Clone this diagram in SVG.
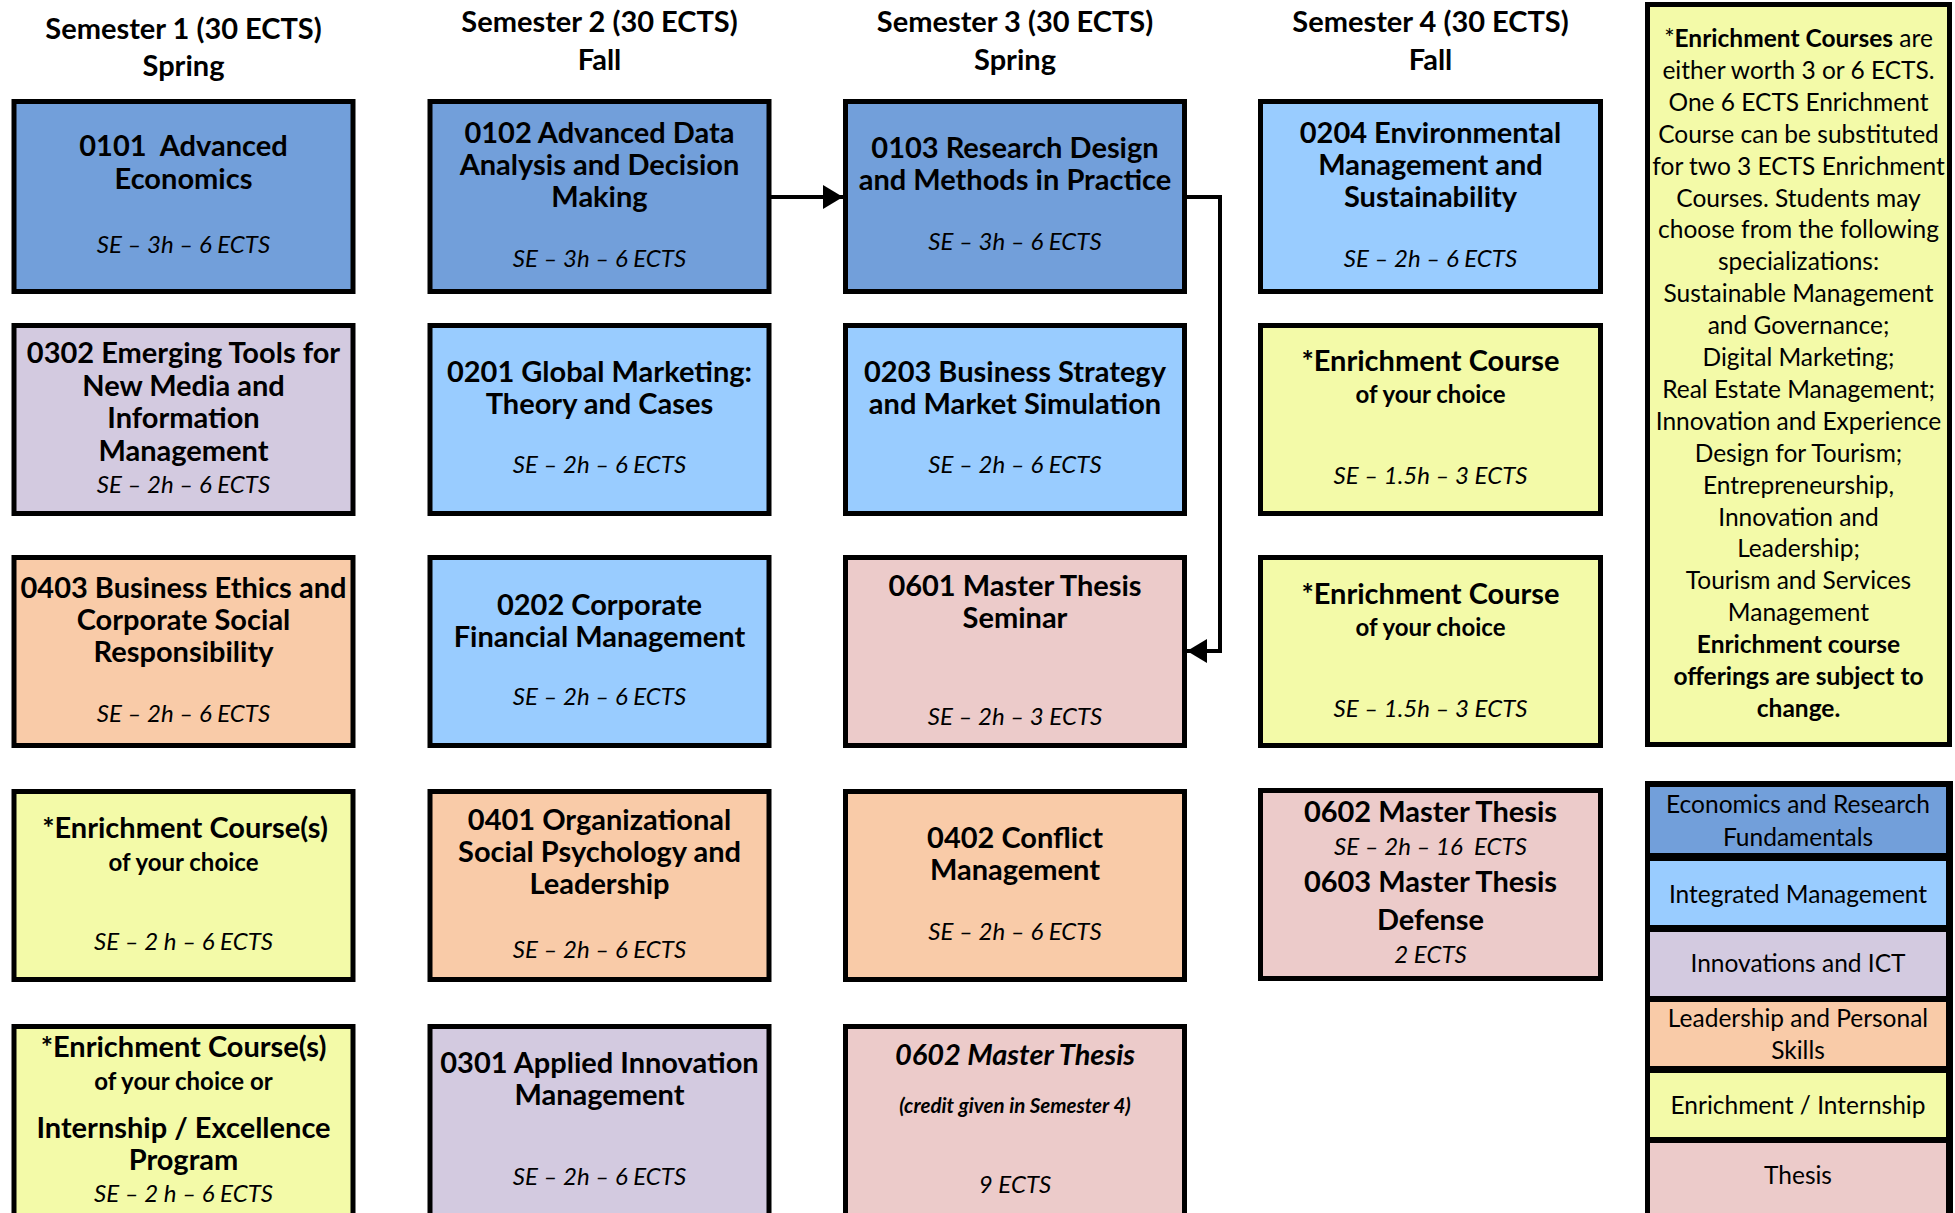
<svg xmlns="http://www.w3.org/2000/svg" width="1955" height="1213" viewBox="0 0 1955 1213">
<style>
text{font-family:Lato,"Liberation Sans",sans-serif;fill:#000;text-anchor:middle}
.h{font-weight:bold;font-size:29px}
.t{font-weight:bold;font-size:29px}
.s{font-weight:bold;font-size:24px}
.i{font-style:italic;font-size:24px}
.bi{font-weight:bold;font-style:italic}
.n{font-size:24.5px}
.b{font-weight:bold}
.box{stroke:#000;stroke-width:5}
.eco{fill:#729fda}
.int{fill:#99ccff}
.inn{fill:#d3cae0}
.lead{fill:#f9cba8}
.enr{fill:#f3faa8}
.the{fill:#eccbca}
.conn{fill:none;stroke:#000;stroke-width:4}
</style>
<defs>
<marker id="ah" markerUnits="userSpaceOnUse" markerWidth="22" markerHeight="24" refX="20" refY="12" orient="auto">
<path d="M0,0 L20,12 L0,24 Z" fill="#000"/>
</marker>
</defs>
<rect width="1955" height="1213" fill="#fff"/>

<g id="headings">
<text class="h" x="183.5" y="39">Semester 1 (30 ECTS)</text>
<text class="h" x="183.5" y="76">Spring</text>
<text class="h" x="599.5" y="32">Semester 2 (30 ECTS)</text>
<text class="h" x="599.5" y="70">Fall</text>
<text class="h" x="1015" y="32">Semester 3 (30 ECTS)</text>
<text class="h" x="1015" y="70">Spring</text>
<text class="h" x="1430.5" y="32">Semester 4 (30 ECTS)</text>
<text class="h" x="1430.5" y="70">Fall</text>
</g>

<g id="connectors">
<path class="conn" d="M769,197 L843,197" marker-end="url(#ah)"/>
<path class="conn" d="M1184,197 L1220,197 L1220,651 L1187,651" marker-end="url(#ah)"/>
</g>

<!-- Column 1 -->
<g id="n0101">
<rect class="box eco" x="14" y="101.5" width="339" height="190"/>
<text class="t" x="183.5" y="156" xml:space="preserve">0101  Advanced</text>
<text class="t" x="183.5" y="189">Economics</text>
<text class="i" x="183.5" y="253">SE – 3h – 6 ECTS</text>
</g>
<g id="n0302">
<rect class="box inn" x="14" y="325.5" width="339" height="188"/>
<text class="t" x="183.5" y="363">0302 Emerging Tools for</text>
<text class="t" x="183.5" y="396">New Media and</text>
<text class="t" x="183.5" y="428">Information</text>
<text class="t" x="183.5" y="461">Management</text>
<text class="i" x="183.5" y="493">SE – 2h – 6 ECTS</text>
</g>
<g id="n0403">
<rect class="box lead" x="14" y="557.5" width="339" height="188"/>
<text class="t" x="183.5" y="598">0403 Business Ethics and</text>
<text class="t" x="183.5" y="630">Corporate Social</text>
<text class="t" x="183.5" y="662">Responsibility</text>
<text class="i" x="183.5" y="722">SE – 2h – 6 ECTS</text>
</g>
<g id="n-enr1">
<rect class="box enr" x="14" y="791.5" width="339" height="188"/>
<text class="t" x="185" y="838">*Enrichment Course(s)</text>
<text class="s" x="183.5" y="871">of your choice</text>
<text class="i" x="183.5" y="950">SE – 2 h – 6 ECTS</text>
</g>
<g id="n-enr2">
<rect class="box enr" x="14" y="1026.5" width="339" height="210"/>
<text class="t" x="183.5" y="1057">*Enrichment Course(s)</text>
<text class="s" x="183.5" y="1090">of your choice or</text>
<text class="t" x="183.5" y="1138">Internship / Excellence</text>
<text class="t" x="183.5" y="1170">Program</text>
<text class="i" x="183.5" y="1202">SE – 2 h – 6 ECTS</text>
</g>

<!-- Column 2 -->
<g id="n0102">
<rect class="box eco" x="430" y="101.5" width="339" height="190"/>
<text class="t" x="599.5" y="143">0102 Advanced Data</text>
<text class="t" x="599.5" y="175">Analysis and Decision</text>
<text class="t" x="599.5" y="207">Making</text>
<text class="i" x="599.5" y="267">SE – 3h – 6 ECTS</text>
</g>
<g id="n0201">
<rect class="box int" x="430" y="325.5" width="339" height="188"/>
<text class="t" x="599.5" y="382">0201 Global Marketing:</text>
<text class="t" x="599.5" y="414">Theory and Cases</text>
<text class="i" x="599.5" y="473">SE – 2h – 6 ECTS</text>
</g>
<g id="n0202">
<rect class="box int" x="430" y="557.5" width="339" height="188"/>
<text class="t" x="599.5" y="615">0202 Corporate</text>
<text class="t" x="599.5" y="647">Financial Management</text>
<text class="i" x="599.5" y="705">SE – 2h – 6 ECTS</text>
</g>
<g id="n0401">
<rect class="box lead" x="430" y="791.5" width="339" height="188"/>
<text class="t" x="599.5" y="830">0401 Organizational</text>
<text class="t" x="599.5" y="862">Social Psychology and</text>
<text class="t" x="599.5" y="894">Leadership</text>
<text class="i" x="599.5" y="958">SE – 2h – 6 ECTS</text>
</g>
<g id="n0301">
<rect class="box inn" x="430" y="1026.5" width="339" height="210"/>
<text class="t" x="599.5" y="1073">0301 Applied Innovation</text>
<text class="t" x="599.5" y="1105">Management</text>
<text class="i" x="599.5" y="1185">SE – 2h – 6 ECTS</text>
</g>

<!-- Column 3 -->
<g id="n0103">
<rect class="box eco" x="845.5" y="101.5" width="339" height="190"/>
<text class="t" x="1015" y="158">0103 Research Design</text>
<text class="t" x="1015" y="190">and Methods in Practice</text>
<text class="i" x="1015" y="250">SE – 3h – 6 ECTS</text>
</g>
<g id="n0203">
<rect class="box int" x="845.5" y="325.5" width="339" height="188"/>
<text class="t" x="1015" y="382">0203 Business Strategy</text>
<text class="t" x="1015" y="414">and Market Simulation</text>
<text class="i" x="1015" y="473">SE – 2h – 6 ECTS</text>
</g>
<g id="n0601">
<rect class="box the" x="845.5" y="557.5" width="339" height="188"/>
<text class="t" x="1015" y="596">0601 Master Thesis</text>
<text class="t" x="1015" y="628">Seminar</text>
<text class="i" x="1015" y="725">SE – 2h – 3 ECTS</text>
</g>
<g id="n0402">
<rect class="box lead" x="845.5" y="791.5" width="339" height="188"/>
<text class="t" x="1015" y="848">0402 Conflict</text>
<text class="t" x="1015" y="880">Management</text>
<text class="i" x="1015" y="940">SE – 2h – 6 ECTS</text>
</g>
<g id="n0602a">
<rect class="box the" x="845.5" y="1026.5" width="339" height="210"/>
<text class="bi" x="1015" y="1065" font-size="29">0602 Master Thesis</text>
<text class="bi" x="1015" y="1113" font-size="20.5">(credit given in Semester 4)</text>
<text class="i" x="1015" y="1193">9 ECTS</text>
</g>

<!-- Column 4 -->
<g id="n0204">
<rect class="box int" x="1260.5" y="101.5" width="340" height="190"/>
<text class="t" x="1430.5" y="143">0204 Environmental</text>
<text class="t" x="1430.5" y="175">Management and</text>
<text class="t" x="1430.5" y="207">Sustainability</text>
<text class="i" x="1430.5" y="267">SE – 2h – 6 ECTS</text>
</g>
<g id="n-enr3">
<rect class="box enr" x="1260.5" y="325.5" width="340" height="188"/>
<text class="t" x="1430.5" y="371">*Enrichment Course</text>
<text class="s" x="1430.5" y="403">of your choice</text>
<text class="i" x="1430.5" y="484">SE – 1.5h – 3 ECTS</text>
</g>
<g id="n-enr4">
<rect class="box enr" x="1260.5" y="557.5" width="340" height="188"/>
<text class="t" x="1430.5" y="604">*Enrichment Course</text>
<text class="s" x="1430.5" y="636">of your choice</text>
<text class="i" x="1430.5" y="717">SE – 1.5h – 3 ECTS</text>
</g>
<g id="n0602-0603">
<rect class="box the" x="1260.5" y="790.5" width="340" height="188"/>
<text class="t" x="1430.5" y="822">0602 Master Thesis</text>
<text class="i" x="1430.5" y="855" xml:space="preserve">SE – 2h – 16  ECTS</text>
<text class="t" x="1430.5" y="892">0603 Master Thesis</text>
<text class="t" x="1430.5" y="930">Defense</text>
<text class="i" x="1430.5" y="963">2 ECTS</text>
</g>

<!-- Note -->
<g id="note">
<rect class="box enr" x="1647.5" y="4.5" width="302" height="740"/>
<text class="n" x="1798.5" y="47">*<tspan class="b">Enrichment Courses</tspan> are</text>
<text class="n" x="1798.5" y="79">either worth 3 or 6 ECTS.</text>
<text class="n" x="1798.5" y="111">One 6 ECTS Enrichment</text>
<text class="n" x="1798.5" y="143">Course can be substituted</text>
<text class="n" x="1798.5" y="175">for two 3 ECTS Enrichment</text>
<text class="n" x="1798.5" y="207">Courses. Students may</text>
<text class="n" x="1798.5" y="238">choose from the following</text>
<text class="n" x="1798.5" y="270">specializations:</text>
<text class="n" x="1798.5" y="302">Sustainable Management</text>
<text class="n" x="1798.5" y="334">and Governance;</text>
<text class="n" x="1798.5" y="366">Digital Marketing;</text>
<text class="n" x="1798.5" y="398">Real Estate Management;</text>
<text class="n" x="1798.5" y="430">Innovation and Experience</text>
<text class="n" x="1798.5" y="462">Design for Tourism;</text>
<text class="n" x="1798.5" y="494">Entrepreneurship,</text>
<text class="n" x="1798.5" y="526">Innovation and</text>
<text class="n" x="1798.5" y="557">Leadership;</text>
<text class="n" x="1798.5" y="589">Tourism and Services</text>
<text class="n" x="1798.5" y="621">Management</text>
<text class="n b" x="1798.5" y="653">Enrichment course</text>
<text class="n b" x="1798.5" y="685">offerings are subject to</text>
<text class="n b" x="1798.5" y="717">change.</text>
</g>

<!-- Legend -->
<g id="legend">
<rect x="1645" y="781" width="308" height="440" fill="#000"/>
<rect class="eco" x="1650" y="787" width="296" height="66"/>
<rect class="int" x="1650" y="861" width="296" height="64"/>
<rect class="inn" x="1650" y="932" width="296" height="64"/>
<rect class="lead" x="1650" y="1002" width="296" height="64"/>
<rect class="enr" x="1650" y="1073" width="296" height="64"/>
<rect class="the" x="1650" y="1143" width="296" height="80"/>
<text class="n" x="1798" y="813">Economics and Research</text>
<text class="n" x="1798" y="846">Fundamentals</text>
<text class="n" x="1798" y="903">Integrated Management</text>
<text class="n" x="1798" y="972">Innovations and ICT</text>
<text class="n" x="1798" y="1027">Leadership and Personal</text>
<text class="n" x="1798" y="1059">Skills</text>
<text class="n" x="1798" y="1114">Enrichment / Internship</text>
<text class="n" x="1798" y="1184">Thesis</text>
</g>
</svg>
